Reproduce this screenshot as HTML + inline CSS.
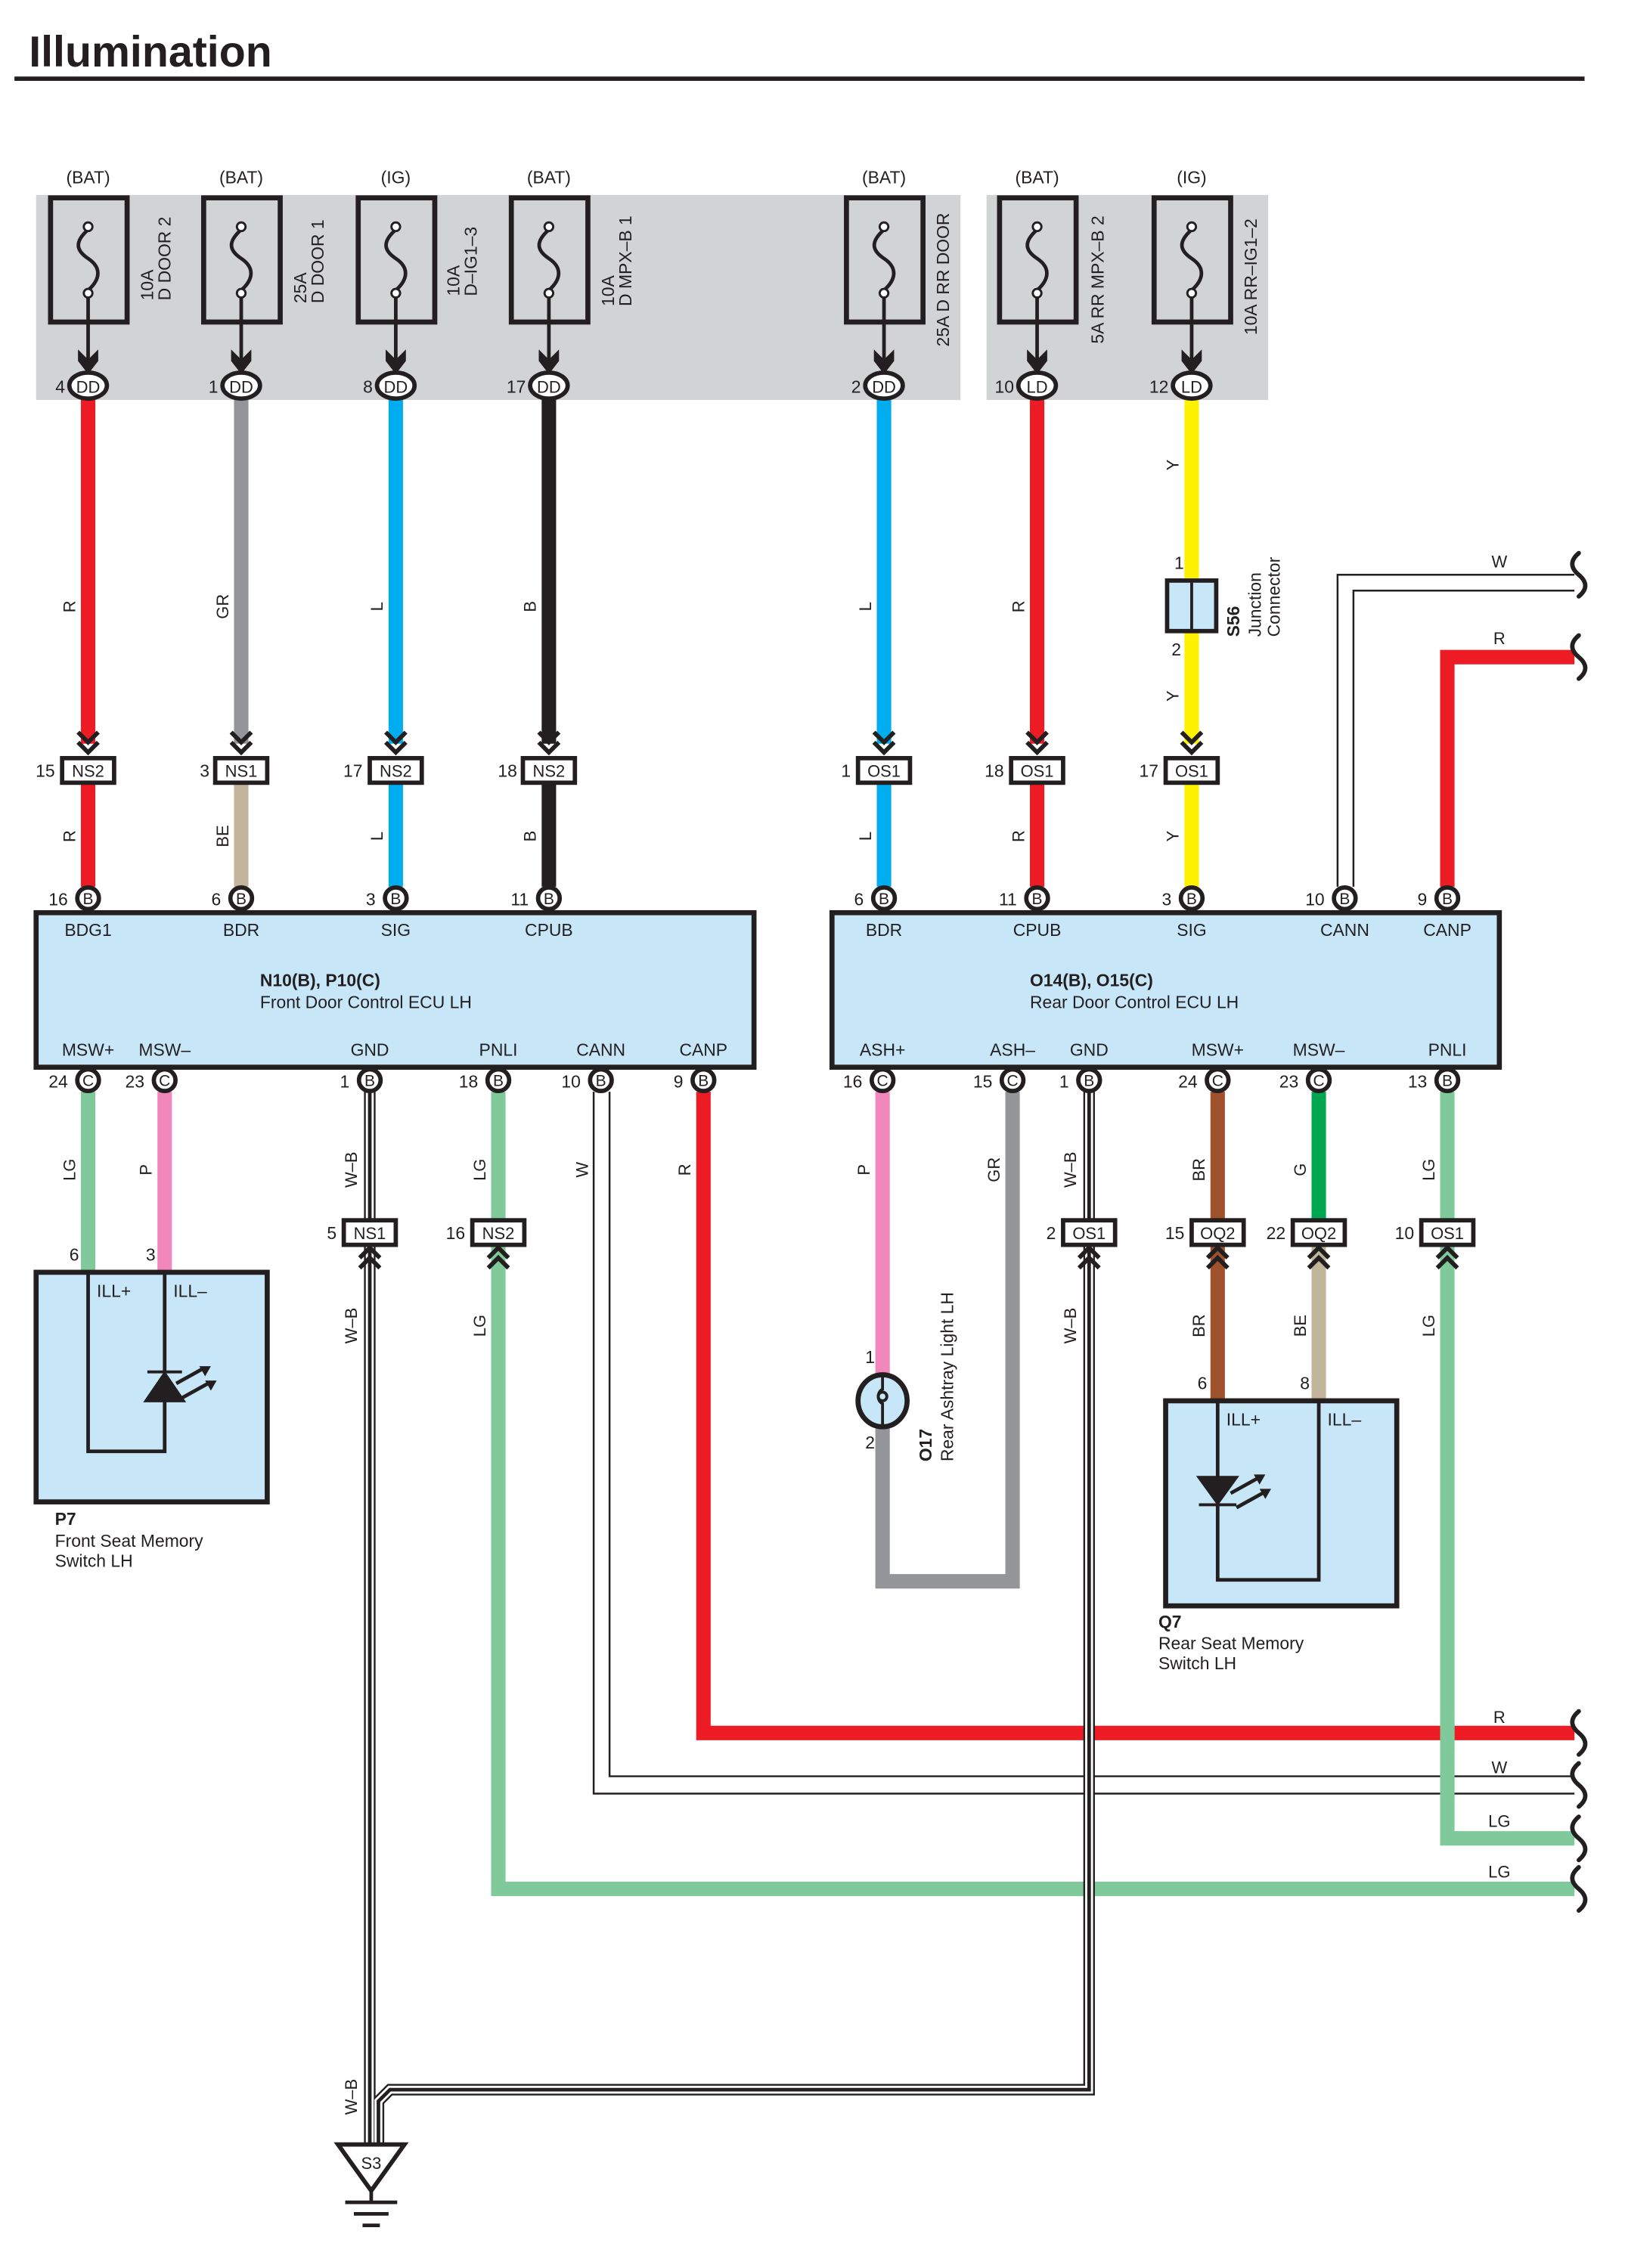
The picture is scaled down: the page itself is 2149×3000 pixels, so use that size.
<!DOCTYPE html>
<html><head><meta charset="utf-8"><style>
html,body{margin:0;padding:0;background:#fff;}
svg{display:block;}
text{font-family:"Liberation Sans",sans-serif;fill:#231f20;}
</style></head><body>
<svg width="2149" height="3000" viewBox="0 0 1125 1570.5" preserveAspectRatio="none" xmlns="http://www.w3.org/2000/svg">
<text x="20" y="46" font-size="30" font-weight="bold">Illumination</text>
<rect x="10" y="53" width="1087" height="3" fill="#231f20"/>

<rect x="25" y="135" width="640" height="142" fill="#d1d3d4"/>
<rect x="683" y="135" width="195" height="142" fill="#d1d3d4"/>

<g font-size="12" text-anchor="middle">
<text x="61" y="127">(BAT)</text><text x="167" y="127">(BAT)</text><text x="274" y="127">(IG)</text><text x="380" y="127">(BAT)</text>
<text x="612" y="127">(BAT)</text><text x="718" y="127">(BAT)</text><text x="825" y="127">(IG)</text>
</g>

<!-- fuses -->
<g id="fuses" stroke="#231f20" fill="none">
<g stroke-width="3.5">
<rect x="35" y="137" width="53" height="86"/><rect x="141" y="137" width="53" height="86"/><rect x="248" y="137" width="53" height="86"/><rect x="354" y="137" width="53" height="86"/>
<rect x="586" y="137" width="53" height="86"/><rect x="692" y="137" width="53" height="86"/><rect x="799" y="137" width="53" height="86"/>
</g>
<g stroke-width="2.5">
<path d="M61,159 c-9,8 -9,14 0,20 s9,14 0,22 M61,205 V250"/>
<path d="M167,159 c-9,8 -9,14 0,20 s9,14 0,22 M167,205 V250"/>
<path d="M274,159 c-9,8 -9,14 0,20 s9,14 0,22 M274,205 V250"/>
<path d="M380,159 c-9,8 -9,14 0,20 s9,14 0,22 M380,205 V250"/>
<path d="M612,159 c-9,8 -9,14 0,20 s9,14 0,22 M612,205 V250"/>
<path d="M718,159 c-9,8 -9,14 0,20 s9,14 0,22 M718,205 V250"/>
<path d="M825,159 c-9,8 -9,14 0,20 s9,14 0,22 M825,205 V250"/>
</g>
<g stroke-width="1.5" fill="#fff">
<circle cx="61" cy="157" r="3"/><circle cx="61" cy="203" r="3"/><circle cx="167" cy="157" r="3"/><circle cx="167" cy="203" r="3"/>
<circle cx="274" cy="157" r="3"/><circle cx="274" cy="203" r="3"/><circle cx="380" cy="157" r="3"/><circle cx="380" cy="203" r="3"/>
<circle cx="612" cy="157" r="3"/><circle cx="612" cy="203" r="3"/><circle cx="718" cy="157" r="3"/><circle cx="718" cy="203" r="3"/>
<circle cx="825" cy="157" r="3"/><circle cx="825" cy="203" r="3"/>
</g>
</g>
<g fill="#231f20">
<path d="M54,242 L61,249 L68,242 L68,250 L61,259 L54,250Z"/>
<path d="M160,242 L167,249 L174,242 L174,250 L167,259 L160,250Z"/>
<path d="M267,242 L274,249 L281,242 L281,250 L274,259 L267,250Z"/>
<path d="M373,242 L380,249 L387,242 L387,250 L380,259 L373,250Z"/>
<path d="M605,242 L612,249 L619,242 L619,250 L612,259 L605,250Z"/>
<path d="M711,242 L718,249 L725,242 L725,250 L718,259 L711,250Z"/>
<path d="M818,242 L825,249 L832,242 L832,250 L825,259 L818,250Z"/>
</g>
<!-- fuse labels -->
<g font-size="12">
<text transform="translate(106,208) rotate(-90)">10A</text><text transform="translate(118,208) rotate(-90)">D DOOR 2</text>
<text transform="translate(212,210) rotate(-90)">25A</text><text transform="translate(224,210) rotate(-90)">D DOOR 1</text>
<text transform="translate(318,205) rotate(-90)">10A</text><text transform="translate(330,205) rotate(-90)">D–IG1–3</text>
<text transform="translate(425,212) rotate(-90)">10A</text><text transform="translate(437,212) rotate(-90)">D MPX–B 1</text>
<text transform="translate(657,240) rotate(-90)">25A D RR DOOR</text>
<text transform="translate(764,238) rotate(-90)">5A RR MPX–B 2</text>
<text transform="translate(870,232) rotate(-90)">10A RR–IG1–2</text>
</g>

<!-- wires top -->
<g stroke-width="10" fill="none" stroke-linecap="butt">
<path d="M61,276 V515 M61,542 V614" stroke="#ed1c24"/>
<path d="M167,276 V515" stroke="#939598"/><path d="M167,542 V614" stroke="#c2b59b"/>
<path d="M274,276 V515 M274,542 V614" stroke="#00aeef"/>
<path d="M380,276 V515 M380,542 V614" stroke="#231f20"/>
<path d="M612,276 V515 M612,542 V614" stroke="#00aeef"/>
<path d="M718,276 V515 M718,542 V614" stroke="#ed1c24"/>
<path d="M825,276 V402 M825,437 V515 M825,542 V614" stroke="#fff200"/>
<path d="M1002,614 V455 H1090" stroke="#ed1c24"/>
</g>
<!-- W wire right CANN -->
<path d="M926,614 V398 H1090 M937,614 V409 H1090" stroke="#231f20" stroke-width="1.3" fill="none"/>

<!-- DD/LD ovals -->
<g stroke="#231f20" stroke-width="3" fill="#fff">
<ellipse cx="61" cy="267" rx="13" ry="9"/><ellipse cx="167" cy="267" rx="13" ry="9"/><ellipse cx="274" cy="267" rx="13" ry="9"/><ellipse cx="380" cy="267" rx="13" ry="9"/>
<ellipse cx="612" cy="267" rx="13" ry="9"/><ellipse cx="718" cy="267" rx="13" ry="9"/><ellipse cx="825" cy="267" rx="13" ry="9"/>
</g>
<g font-size="11.5" text-anchor="middle">
<text x="61" y="272">DD</text><text x="167" y="272">DD</text><text x="274" y="272">DD</text><text x="380" y="272">DD</text>
<text x="612" y="272">DD</text><text x="718" y="272">LD</text><text x="825" y="272">LD</text>
</g>
<g font-size="12" text-anchor="end">
<text x="45" y="272">4</text><text x="151" y="272">1</text><text x="258" y="272">8</text><text x="364" y="272">17</text>
<text x="596" y="272">2</text><text x="702" y="272">10</text><text x="809" y="272">12</text>
</g>

<!-- wire color labels top -->
<g font-size="11.5" text-anchor="middle">
<text transform="translate(52,420) rotate(-90)">R</text>
<text transform="translate(158,420) rotate(-90)">GR</text>
<text transform="translate(265,420) rotate(-90)">L</text>
<text transform="translate(371,420) rotate(-90)">B</text>
<text transform="translate(603,420) rotate(-90)">L</text>
<text transform="translate(709,420) rotate(-90)">R</text>
<text transform="translate(816,322) rotate(-90)">Y</text>
<text transform="translate(816,482) rotate(-90)">Y</text>
<text transform="translate(52,579) rotate(-90)">R</text>
<text transform="translate(158,579) rotate(-90)">BE</text>
<text transform="translate(265,579) rotate(-90)">L</text>
<text transform="translate(371,579) rotate(-90)">B</text>
<text transform="translate(603,579) rotate(-90)">L</text>
<text transform="translate(709,579) rotate(-90)">R</text>
<text transform="translate(816,579) rotate(-90)">Y</text>
<text x="1038" y="393">W</text><text x="1038" y="446">R</text>
</g>

<!-- S56 junction -->
<rect x="808" y="402" width="34" height="35" fill="#c7e7f9" stroke="#231f20" stroke-width="3"/>
<line x1="825" y1="402" x2="825" y2="437" stroke="#231f20" stroke-width="2"/>
<text x="813" y="394" font-size="12">1</text><text x="811" y="454" font-size="12">2</text>
<text transform="translate(858,441) rotate(-90)" font-size="12" font-weight="bold">S56</text>
<text transform="translate(873,441) rotate(-90)" font-size="12">Junction</text>
<text transform="translate(886,441) rotate(-90)" font-size="12">Connector</text>

<!-- down chevrons above connectors -->
<g fill="none" stroke="#231f20" stroke-width="3">
<path d="M54,507 l7,7 l7,-7 M54,514 l7,7 l7,-7"/>
<path d="M160,507 l7,7 l7,-7 M160,514 l7,7 l7,-7"/>
<path d="M267,507 l7,7 l7,-7 M267,514 l7,7 l7,-7"/>
<path d="M373,507 l7,7 l7,-7 M373,514 l7,7 l7,-7"/>
<path d="M605,507 l7,7 l7,-7 M605,514 l7,7 l7,-7"/>
<path d="M711,507 l7,7 l7,-7 M711,514 l7,7 l7,-7"/>
<path d="M818,507 l7,7 l7,-7 M818,514 l7,7 l7,-7"/>
</g>
<!-- connectors y=533 -->
<g stroke="#231f20" stroke-width="3" fill="#fff">
<rect x="43" y="525" width="36" height="17"/><rect x="149" y="525" width="36" height="17"/><rect x="256" y="525" width="36" height="17"/><rect x="362" y="525" width="36" height="17"/>
<rect x="594" y="525" width="36" height="17"/><rect x="700" y="525" width="36" height="17"/><rect x="807" y="525" width="36" height="17"/>
</g>
<g font-size="11.5" text-anchor="middle">
<text x="61" y="538">NS2</text><text x="167" y="538">NS1</text><text x="274" y="538">NS2</text><text x="380" y="538">NS2</text>
<text x="612" y="538">OS1</text><text x="718" y="538">OS1</text><text x="825" y="538">OS1</text>
</g>
<g font-size="12" text-anchor="end">
<text x="38" y="538">15</text><text x="145" y="538">3</text><text x="251" y="538">17</text><text x="358" y="538">18</text>
<text x="589" y="538">1</text><text x="695" y="538">18</text><text x="802" y="538">17</text>
</g>

<!-- bottom wires -->
<g stroke-width="10" fill="none">
<path d="M61,756 V881" stroke="#7fc99b"/>
<path d="M114,756 V881" stroke="#f287bb"/>
<path d="M345,756 V845 M345,862 V1308 H1090" stroke="#7fc99b"/>
<path d="M487,756 V1200 H1090" stroke="#ed1c24"/>
<path d="M611,756 V953" stroke="#f287bb"/>
<path d="M611,987 V1095 H701 V756" stroke="#939598"/>
<path d="M843,756 V845 M843,862 V970" stroke="#a0522d"/>
<path d="M913,756 V845" stroke="#00a651"/><path d="M913,862 V970" stroke="#c2b59b"/>
<path d="M1002,756 V845 M1002,862 V1273 H1090" stroke="#7fc99b"/>
</g>
<path d="M411,756 V1242 H1090 M422,756 V1230 H1090" stroke="#231f20" stroke-width="1.3" fill="none"/>
<path d="M1002,1188 V1212" stroke="#7fc99b" stroke-width="10"/>
<path d="M1002,1226 V1246" stroke="#7fc99b" stroke-width="10"/>
<!-- W-B -->
<g fill="none">
<path d="M256,756 V845 M256,862 V1485 M754,756 V845 M754,862 V1447 H270 L262,1455 V1485" stroke="#231f20" stroke-width="8"/>
<path d="M256,756 V845 M256,862 V1485 M754,756 V845 M754,862 V1447 H270 L262,1455 V1485" stroke="#fff" stroke-width="5.5"/>
<path d="M256,756 V845 M256,862 V1485 M754,756 V845 M754,862 V1447 H270 L262,1455 V1485" stroke="#231f20" stroke-width="2.5"/>
</g>

<!-- ECUs -->
<rect x="25" y="632" width="497" height="107" fill="#c7e7f9" stroke="#231f20" stroke-width="3.5"/>
<rect x="576" y="632" width="462" height="107" fill="#c7e7f9" stroke="#231f20" stroke-width="3.5"/>
<g font-size="12" text-anchor="middle">
<text x="61" y="648">BDG1</text><text x="167" y="648">BDR</text><text x="274" y="648">SIG</text><text x="380" y="648">CPUB</text>
<text x="612" y="648">BDR</text><text x="718" y="648">CPUB</text><text x="825" y="648">SIG</text><text x="931" y="648">CANN</text><text x="1002" y="648">CANP</text>
<text x="61" y="731">MSW+</text><text x="114" y="731">MSW–</text><text x="256" y="731">GND</text><text x="345" y="731">PNLI</text><text x="416" y="731">CANN</text><text x="487" y="731">CANP</text>
<text x="611" y="731">ASH+</text><text x="701" y="731">ASH–</text><text x="754" y="731">GND</text><text x="843" y="731">MSW+</text><text x="913" y="731">MSW–</text><text x="1002" y="731">PNLI</text>
</g>
<text x="180" y="683" font-size="12" font-weight="bold">N10(B), P10(C)</text>
<text x="180" y="698" font-size="12">Front Door Control ECU LH</text>
<text x="713" y="683" font-size="12" font-weight="bold">O14(B), O15(C)</text>
<text x="713" y="698" font-size="12">Rear Door Control ECU LH</text>

<!-- pins -->
<g stroke="#231f20" stroke-width="3" fill="#fff">
<circle cx="61" cy="622" r="7.5"/><circle cx="167" cy="622" r="7.5"/><circle cx="274" cy="622" r="7.5"/><circle cx="380" cy="622" r="7.5"/>
<circle cx="612" cy="622" r="7.5"/><circle cx="718" cy="622" r="7.5"/><circle cx="825" cy="622" r="7.5"/><circle cx="931" cy="622" r="7.5"/><circle cx="1002" cy="622" r="7.5"/>
<circle cx="61" cy="748" r="7.5"/><circle cx="114" cy="748" r="7.5"/><circle cx="256" cy="748" r="7.5"/><circle cx="345" cy="748" r="7.5"/><circle cx="416" cy="748" r="7.5"/><circle cx="487" cy="748" r="7.5"/>
<circle cx="611" cy="748" r="7.5"/><circle cx="701" cy="748" r="7.5"/><circle cx="754" cy="748" r="7.5"/><circle cx="843" cy="748" r="7.5"/><circle cx="913" cy="748" r="7.5"/><circle cx="1002" cy="748" r="7.5"/>
</g>
<g font-size="11" text-anchor="middle">
<text x="61" y="626">B</text><text x="167" y="626">B</text><text x="274" y="626">B</text><text x="380" y="626">B</text>
<text x="612" y="626">B</text><text x="718" y="626">B</text><text x="825" y="626">B</text><text x="931" y="626">B</text><text x="1002" y="626">B</text>
<text x="61" y="752">C</text><text x="114" y="752">C</text><text x="256" y="752">B</text><text x="345" y="752">B</text><text x="416" y="752">B</text><text x="487" y="752">B</text>
<text x="611" y="752">C</text><text x="701" y="752">C</text><text x="754" y="752">B</text><text x="843" y="752">C</text><text x="913" y="752">C</text><text x="1002" y="752">B</text>
</g>
<g font-size="12" text-anchor="end">
<text x="47" y="627">16</text><text x="153" y="627">6</text><text x="260" y="627">3</text><text x="366" y="627">11</text>
<text x="598" y="627">6</text><text x="704" y="627">11</text><text x="811" y="627">3</text><text x="917" y="627">10</text><text x="988" y="627">9</text>
<text x="47" y="753">24</text><text x="100" y="753">23</text><text x="242" y="753">1</text><text x="331" y="753">18</text><text x="402" y="753">10</text><text x="473" y="753">9</text>
<text x="597" y="753">16</text><text x="687" y="753">15</text><text x="740" y="753">1</text><text x="829" y="753">24</text><text x="899" y="753">23</text><text x="988" y="753">13</text>
</g>

<!-- bottom wire labels -->
<g font-size="11.5" text-anchor="middle">
<text transform="translate(52,810) rotate(-90)">LG</text>
<text transform="translate(105,810) rotate(-90)">P</text>
<text transform="translate(247,810) rotate(-90)">W–B</text>
<text transform="translate(336,810) rotate(-90)">LG</text>
<text transform="translate(407,810) rotate(-90)">W</text>
<text transform="translate(478,810) rotate(-90)">R</text>
<text transform="translate(602,810) rotate(-90)">P</text>
<text transform="translate(692,810) rotate(-90)">GR</text>
<text transform="translate(745,810) rotate(-90)">W–B</text>
<text transform="translate(834,810) rotate(-90)">BR</text>
<text transform="translate(904,810) rotate(-90)">G</text>
<text transform="translate(993,810) rotate(-90)">LG</text>
<text transform="translate(247,918) rotate(-90)">W–B</text>
<text transform="translate(336,918) rotate(-90)">LG</text>
<text transform="translate(745,918) rotate(-90)">W–B</text>
<text transform="translate(834,918) rotate(-90)">BR</text>
<text transform="translate(904,918) rotate(-90)">BE</text>
<text transform="translate(993,918) rotate(-90)">LG</text>
<text transform="translate(247,1452) rotate(-90)">W–B</text>
<text x="1038" y="1193">R</text><text x="1038" y="1228">W</text><text x="1038" y="1265">LG</text><text x="1038" y="1300">LG</text>
</g>

<!-- up chevrons below connectors -->
<g fill="none" stroke="#231f20" stroke-width="3">
<path d="M249,871 l7,-7 l7,7 M249,878 l7,-7 l7,7"/>
<path d="M338,871 l7,-7 l7,7 M338,878 l7,-7 l7,7"/>
<path d="M747,871 l7,-7 l7,7 M747,878 l7,-7 l7,7"/>
<path d="M836,871 l7,-7 l7,7 M836,878 l7,-7 l7,7"/>
<path d="M906,871 l7,-7 l7,7 M906,878 l7,-7 l7,7"/>
<path d="M995,871 l7,-7 l7,7 M995,878 l7,-7 l7,7"/>
</g>
<g stroke="#231f20" stroke-width="3" fill="#fff">
<rect x="238" y="845" width="36" height="17"/><rect x="327" y="845" width="36" height="17"/>
<rect x="736" y="845" width="36" height="17"/><rect x="825" y="845" width="36" height="17"/><rect x="895" y="845" width="36" height="17"/><rect x="984" y="845" width="36" height="17"/>
</g>
<g font-size="11.5" text-anchor="middle">
<text x="256" y="858">NS1</text><text x="345" y="858">NS2</text><text x="754" y="858">OS1</text><text x="843" y="858">OQ2</text><text x="913" y="858">OQ2</text><text x="1002" y="858">OS1</text>
</g>
<g font-size="12" text-anchor="end">
<text x="233" y="858">5</text><text x="322" y="858">16</text><text x="731" y="858">2</text><text x="820" y="858">15</text><text x="890" y="858">22</text><text x="979" y="858">10</text>
</g>

<!-- P7 -->
<rect x="25" y="881" width="160" height="159" fill="#c7e7f9" stroke="#231f20" stroke-width="3.5"/>
<path d="M61,881 V1005 H114 V881" fill="none" stroke="#231f20" stroke-width="2.5"/>
<path d="M101,970 L127,970 L114,951Z M102,950 H126" fill="#231f20" stroke="#231f20" stroke-width="2"/>
<path d="M122,958 l18,-10 M126,968 l18,-10" stroke="#231f20" stroke-width="2.5"/>
<path d="M146,946 l-8,0 l4,7Z M150,956 l-8,0 l4,7Z" fill="#231f20"/>
<text x="67" y="898" font-size="12">ILL+</text><text x="120" y="898" font-size="12">ILL–</text>
<text x="48" y="873" font-size="12">6</text><text x="101" y="873" font-size="12">3</text>
<text x="38" y="1056" font-size="12" font-weight="bold">P7</text>
<text x="38" y="1071" font-size="12">Front Seat Memory</text>
<text x="38" y="1085" font-size="12">Switch LH</text>

<!-- O17 lamp -->
<ellipse cx="611" cy="970" rx="17" ry="18" fill="#c7e7f9" stroke="#231f20" stroke-width="3.5"/>
<path d="M611,953 V962 c-4,2 -4,8 0,10 V987" fill="none" stroke="#231f20" stroke-width="2"/>
<circle cx="611" cy="967" r="3" fill="none" stroke="#231f20" stroke-width="2"/>
<text x="599" y="944" font-size="12">1</text><text x="599" y="1003" font-size="12">2</text>
<text transform="translate(645,1012) rotate(-90)" font-size="12" font-weight="bold">O17</text>
<text transform="translate(660,1012) rotate(-90)" font-size="12">Rear Ashtray Light LH</text>

<!-- Q7 -->
<rect x="807" y="970" width="160" height="142" fill="#c7e7f9" stroke="#231f20" stroke-width="3.5"/>
<path d="M843,970 V1094 H913 V970" fill="none" stroke="#231f20" stroke-width="2.5"/>
<path d="M830,1023 L856,1023 L843,1041Z M830,1042 H856" fill="#231f20" stroke="#231f20" stroke-width="2"/>
<path d="M852,1034 l18,-10 M856,1044 l18,-10" stroke="#231f20" stroke-width="2.5"/>
<path d="M876,1021 l-8,0 l4,7Z M880,1031 l-8,0 l4,7Z" fill="#231f20"/>
<text x="849" y="987" font-size="12">ILL+</text><text x="919" y="987" font-size="12">ILL–</text>
<text x="829" y="962" font-size="12">6</text><text x="900" y="962" font-size="12">8</text>
<text x="802" y="1127" font-size="12" font-weight="bold">Q7</text>
<text x="802" y="1142" font-size="12">Rear Seat Memory</text>
<text x="802" y="1156" font-size="12">Switch LH</text>

<!-- S3 ground -->
<path d="M234,1485 H280 L257,1517Z" fill="#fff" stroke="#231f20" stroke-width="3"/>
<text x="257" y="1502" font-size="11.5" text-anchor="middle">S3</text>
<path d="M257,1517 V1525 M239,1525 H275 M245,1533 H269 M251,1541 H263" stroke="#231f20" stroke-width="2.5"/>

<!-- break squiggles -->
<g fill="none" stroke="#231f20" stroke-width="3" stroke-linecap="round">
<path d="M1093,383 c-6,5 -6,10 0,15 s6,10 0,15"/>
<path d="M1093,440 c-6,5 -6,10 0,15 s6,10 0,15"/>
<path d="M1093,1185 c-6,5 -6,10 0,15 s6,10 0,15"/>
<path d="M1093,1221 c-6,5 -6,10 0,15 s6,10 0,15"/>
<path d="M1093,1258 c-6,5 -6,10 0,15 s6,10 0,15"/>
<path d="M1093,1293 c-6,5 -6,10 0,15 s6,10 0,15"/>
</g>
</svg>
</body></html>
